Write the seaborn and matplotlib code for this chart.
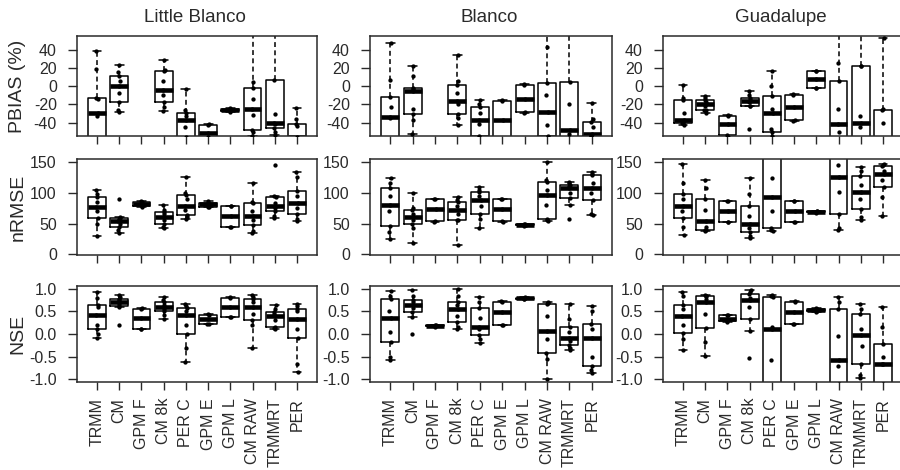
import numpy as np
import pandas as pd
import matplotlib
matplotlib.use("Agg")
import matplotlib.pyplot as plt
import seaborn as sns

# Precipitation products compared in each basin
products = ["TRMM", "CM", "GPM F", "CM 8k", "PER C", "GPM E", "GPM L", "CM RAW", "TRMMRT", "PER"]
basins = ["Little Blanco", "Blanco", "Guadalupe"]
metric_labels = ["PBIAS (%)", "nRMSE", "NSE"]

# ---- PBIAS (%) per product, one list of event values per product ----
little_blanco_pbias = [
    [-80, -65, -58, -33, -29, -14, -13, 19, 38],
    [-28, -26, -17, -8, 0, 6, 11, 15, 23],
    [-75, -70, -66, -62, -58],
    [-27, -23, -18, -10, -4, 5, 16, 18, 29],
    [-70, -62, -56, -45, -37, -33, -30, -26, -3],
    [-62, -56, -51, -43, -42],
    [-28, -27, -26, -25, -24],
    [-55, -50, -48, -32, -25, -14, -2, 4, 65],
    [-54, -50, -46, -42, -40, -31, 7, 60, 70],
    [-75, -65, -60, -58, -56, -44, -42, -36, -24],
]
blanco_pbias = [
    [-70, -62, -58, -35, -34, -23, -12, 7, 47],
    [-53, -37, -31, -25, -5, -3, -2, 11, 22],
    [-80, -75, -70, -65, -60],
    [-43, -35, -31, -20, -16, -8, 1, 5, 34],
    [-65, -58, -55, -42, -37, -30, -23, -20, -15],
    [-65, -58, -37, -16, -15],
    [-29, -28, -14, 1, 2],
    [-70, -60, -55, -43, -28, -10, 3, 43, 75],
    [-80, -70, -62, -52, -48, -20, 4, 60, 80],
    [-70, -60, -55, -54, -53, -45, -39, -36, -19],
]
guadalupe_pbias = [
    [-43, -41, -40, -38, -37, -30, -15, -13, 1],
    [-29, -26, -26, -22, -20, -18, -15.5, -13, -11],
    [-56, -54, -42, -33, -32],
    [-47, -22, -22, -18, -16.6, -15, -13, -10, -5.5],
    [-65, -55, -50, -47, -29, -25, -11, 0, 16],
    [-38, -37, -23, -10, -9],
    [-2, -1.8, 8, 16.7, 17],
    [-80, -65, -58, -50, -41.5, -25, 5, 25, 75],
    [-75, -65, -58, -45, -41, -33, 21.5, 22, 80],
    [-110, -95, -85, -75, -65, -40, -26, -25, 53],
]

# ---- nRMSE ----
little_blanco_nrmse = [
    [30, 50, 59, 70, 77, 85, 93, 97, 104],
    [34, 40, 45, 50, 54, 57, 59, 60, 89],
    [77, 78, 81, 85, 87],
    [42, 45, 49, 55, 61, 66, 69, 72, 80],
    [57, 60, 64, 72, 78, 90, 96, 100, 126],
    [76, 77, 81, 84, 86],
    [44, 45, 62, 78, 79],
    [35, 38, 47.5, 55, 62.6, 70, 82.5, 85, 115],
    [59, 62, 70, 75, 78, 84, 93, 94, 145],
    [54, 58, 66, 75, 84, 95, 103, 125, 133],
]
blanco_nrmse = [
    [25, 37, 46, 70, 80, 95, 107, 115, 123],
    [18, 42, 50, 55, 61, 65, 72, 75, 99],
    [53, 54, 73, 89, 90],
    [15, 55, 55.6, 65, 72, 78, 85, 88, 93],
    [43, 58, 65, 78, 88, 95, 101, 105, 109],
    [53, 54, 73, 89, 90],
    [46, 47, 48, 49, 50],
    [54, 56, 58, 80, 96, 105, 117.6, 120, 150],
    [57, 80, 91.7, 100, 107, 110, 113, 115, 116.5],
    [63.7, 66, 88, 100, 107, 115, 128, 131, 134],
]
guadalupe_nrmse = [
    [31, 45, 59, 70, 78, 90, 97, 115, 146],
    [38, 39, 39.4, 45, 54, 72, 89.6, 108, 121],
    [52, 53, 70, 86, 87],
    [26, 30, 35.6, 42, 50, 62, 79, 97, 123],
    [38, 40, 43, 70, 93, 123, 160, 180, 200],
    [52, 53, 70, 86, 87],
    [67, 68, 69, 70, 71],
    [40, 43, 66, 101, 125, 145, 160, 170, 180],
    [55.6, 60, 73, 90, 101, 112, 127, 135, 142],
    [62.6, 93, 109.5, 120, 129.5, 135, 143.5, 145, 147],
]

# ---- NSE ----
little_blanco_nse = [
    [-0.08, 0.0, 0.12, 0.2, 0.43, 0.6, 0.65, 0.8, 0.93],
    [0.2, 0.6, 0.62, 0.66, 0.71, 0.75, 0.78, 0.82, 0.87],
    [0.1, 0.12, 0.36, 0.56, 0.57],
    [0.34, 0.42, 0.5, 0.55, 0.6, 0.65, 0.71, 0.76, 0.82],
    [-0.62, -0.3, 0.01, 0.2, 0.42, 0.5, 0.58, 0.62, 0.67],
    [0.21, 0.23, 0.34, 0.42, 0.44],
    [0.37, 0.38, 0.6, 0.8, 0.81],
    [-0.32, 0.2, 0.31, 0.45, 0.6, 0.7, 0.78, 0.82, 0.87],
    [0.12, 0.14, 0.15, 0.3, 0.4, 0.45, 0.49, 0.55, 0.65],
    [-0.83, -0.66, -0.08, 0.1, 0.34, 0.5, 0.56, 0.62, 0.67],
]
blanco_nse = [
    [-0.57, -0.5, -0.18, 0.05, 0.36, 0.5, 0.78, 0.85, 0.95],
    [0.0, 0.38, 0.49, 0.58, 0.65, 0.7, 0.76, 0.85, 0.97],
    [0.15, 0.17, 0.18, 0.19, 0.2],
    [0.11, 0.15, 0.26, 0.4, 0.56, 0.65, 0.71, 0.85, 0.99],
    [-0.2, -0.1, -0.02, 0.1, 0.16, 0.35, 0.58, 0.7, 0.82],
    [0.19, 0.2, 0.49, 0.71, 0.72],
    [0.77, 0.78, 0.79, 0.8, 0.81],
    [-1.0, -0.55, -0.42, -0.1, 0.07, 0.4, 0.66, 0.68, 0.7],
    [-0.35, -0.3, -0.24, -0.15, -0.08, 0.05, 0.16, 0.34, 0.67],
    [-0.86, -0.8, -0.7, -0.5, -0.08, 0.1, 0.22, 0.5, 0.62],
]
guadalupe_nse = [
    [-0.35, -0.1, 0.03, 0.2, 0.4, 0.55, 0.65, 0.85, 0.93],
    [-0.48, -0.18, 0.14, 0.45, 0.71, 0.78, 0.84, 0.85, 0.86],
    [0.27, 0.29, 0.33, 0.41, 0.43],
    [-0.53, 0.07, 0.34, 0.6, 0.75, 0.8, 0.89, 0.93, 0.97],
    [-1.5, -1.3, -1.2, -0.57, 0.12, 0.15, 0.81, 0.84, 0.86],
    [0.22, 0.23, 0.49, 0.71, 0.72],
    [0.49, 0.5, 0.53, 0.56, 0.57],
    [-1.4, -1.2, -1.1, -0.7, -0.57, -0.05, 0.56, 0.7, 0.81],
    [-0.97, -0.9, -0.66, -0.27, -0.02, 0.1, 0.44, 0.55, 0.67],
    [-1.5, -1.2, -1.1, -0.67, -0.67, -0.5, -0.22, 0.15, 0.6],
]

pbias_ticks = [-40, -20, 0, 20, 40]
nrmse_ticks = [0, 50, 100, 150]
nse_ticks = [-1.0, -0.5, 0.0, 0.5, 1.0]

grid = [
    [little_blanco_pbias, blanco_pbias, guadalupe_pbias],
    [little_blanco_nrmse, blanco_nrmse, guadalupe_nrmse],
    [little_blanco_nse, blanco_nse, guadalupe_nse],
]
row_ticks = [pbias_ticks, nrmse_ticks, nse_ticks]
row_limits = [(-54.7, 54.8), (-1.0, 154.5), (-1.06, 1.06)]
row_formats = ["{:.0f}", "{:.0f}", "{:.1f}"]

sns.set_theme(style="ticks")
plt.rcParams["font.family"] = ["Liberation Sans", "DejaVu Sans"]
ink = "#2a2a2a"
plt.rcParams["text.color"] = ink
plt.rcParams["xtick.color"] = ink
plt.rcParams["ytick.color"] = ink
plt.rcParams["axes.edgecolor"] = ink

W, H = 900, 470
fig = plt.figure(figsize=(W / 100, H / 100), dpi=100)
fig.patch.set_facecolor("white")

col_px = [(77, 317), (370, 612), (663, 903)]
row_px = [(36, 136), (159, 255), (286, 382)]

np.random.seed(3)
for r in range(3):
    for c in range(3):
        x0, x1 = col_px[c]
        y0, y1 = row_px[r]
        ax = fig.add_axes([x0 / W, 1 - y1 / H, (x1 - x0) / W, (y1 - y0) / H])
        values = grid[r][c]
        df = pd.DataFrame(
            [(p, v) for p, vals in zip(products, values) for v in vals],
            columns=["product", "value"],
        )
        sns.boxplot(
            data=df, x="product", y="value", order=products, ax=ax,
            width=0.8, whis=1.5, showfliers=False, fill=False,
            color="black", linewidth=1.1,
            medianprops=dict(linewidth=3.3, color="black", solid_capstyle="butt"),
            whiskerprops=dict(linestyle=(0, (3.2, 2.2)), linewidth=1.1, color="black"),
            capprops=dict(linestyle="-", linewidth=1.1, color="black"),
            boxprops=dict(linewidth=1.1, color="black"),
        )
        sns.stripplot(
            data=df, x="product", y="value", order=products, ax=ax,
            color="black", size=3.1, jitter=0.04, linewidth=0, zorder=4,
        )
        ax.set_xlim(-0.9, 9.9)
        ax.set_ylim(*row_limits[r])
        ax.set_yticks(row_ticks[r])
        ax.set_yticklabels([row_formats[r].format(t) for t in row_ticks[r]])
        ax.set_xlabel("")
        ax.set_ylabel("")
        for s in ax.spines.values():
            s.set_visible(True)
            s.set_linewidth(1.1)
            s.set_color(ink)
        ax.tick_params(axis="y", direction="out", length=6.5, width=1.0, pad=8, labelsize=11.5)
        ax.tick_params(axis="x", direction="out", length=5.5, width=1.0, pad=6, labelsize=11.5)
        ax.set_xticks(range(len(products)))
        if r == 2:
            ax.set_xticklabels(products, rotation=90, va="top", ha="center")
        else:
            ax.set_xticklabels([])
        if r == 0:
            fig.text((x0 + x1) / 2 / W - 0.002, 1 - 18 / H, basins[c],
                     ha="center", va="center", fontsize=13.5, color=ink)
        if c == 0:
            fig.text(18 / W, 1 - (y0 + y1) / 2 / H, metric_labels[r],
                     rotation=90, ha="center", va="center", fontsize=14, color=ink)

fig.savefig("out.png", dpi=100, facecolor="white")
